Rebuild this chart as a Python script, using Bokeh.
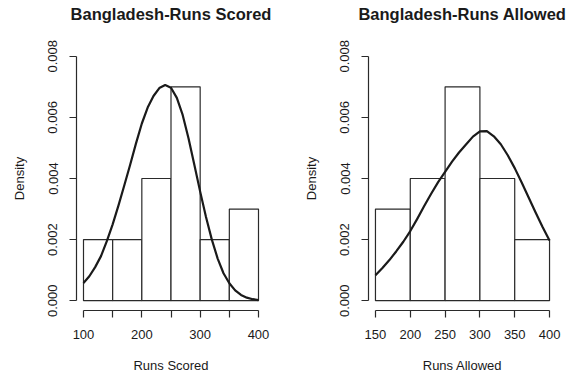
from bokeh.plotting import figure
from bokeh.layouts import row
from bokeh.models import Range1d, FixedTicker, Title
from bokeh.embed import file_html
from bokeh.resources import INLINE

# ---- data ----
scored_edges = [100, 150, 200, 250, 300, 350, 400]
scored_density = [0.002, 0.002, 0.004, 0.007, 0.002, 0.003]
scored_curve_x = [100, 110, 120, 130, 140, 150, 160, 170, 180, 190, 200, 210, 220, 230, 240,
                  250, 260, 270, 280, 290, 300, 310, 320, 330, 340, 350, 360, 370, 380, 390, 400]
scored_curve_y = [0.00058, 0.00080, 0.00110, 0.00146, 0.00195, 0.00250, 0.00312, 0.00378, 0.00445,
                  0.00515, 0.00580, 0.00632, 0.00670, 0.00696, 0.00706, 0.00697, 0.00664, 0.00608,
                  0.00532, 0.00445, 0.00357, 0.00274, 0.00200, 0.00138, 0.00090, 0.00057, 0.00034,
                  0.00019, 0.00010, 0.00005, 0.00002]

allowed_edges = [150, 200, 250, 300, 350, 400]
allowed_density = [0.003, 0.004, 0.007, 0.004, 0.002]
allowed_curve_x = [150, 160, 170, 180, 190, 200, 210, 220, 230, 240, 250, 260, 270, 280, 290,
                   300, 310, 320, 330, 340, 350, 360, 370, 380, 390, 400]
allowed_curve_y = [0.00083, 0.00107, 0.00133, 0.00162, 0.00193, 0.00228, 0.00268, 0.00310, 0.00350,
                   0.00388, 0.00422, 0.00455, 0.00485, 0.00511, 0.00537, 0.00554, 0.00555, 0.00538,
                   0.00512, 0.00476, 0.00434, 0.00387, 0.00338, 0.00289, 0.00241, 0.00197]

y_ticks = [0.0, 0.002, 0.004, 0.006, 0.008]
y_tick_labels = ["0.000", "0.002", "0.004", "0.006", "0.008"]

FONT = "Liberation Sans"
INK = "#1a1a1a"
Y_LO, Y_HI = -0.00032, 0.00832


def make_panel(title, xlabel, edges, dens, cx, cy, width, border_left, border_right,
               major_x, minor_x):
    lo, hi = edges[0], edges[-1]
    pad = (hi - lo) * 0.04
    p = figure(width=width, height=379, output_backend="svg", toolbar_location=None,
               x_range=Range1d(lo - pad, hi + pad), y_range=Range1d(Y_LO, Y_HI),
               min_border_left=border_left, min_border_right=border_right,
               min_border_top=46, min_border_bottom=69)
    p.title = Title(text=title, align="center", text_font=FONT, text_font_size="16.5px",
                    text_font_style="bold", text_color=INK, standoff=0)
    # invisible spacer between frame and title (pushes the title upward)
    p.add_layout(Title(text=" ", text_font_size="11px", text_color="white"), "above")
    p.outline_line_color = None
    p.xgrid.visible = False
    p.ygrid.visible = False
    p.background_fill_color = "white"
    p.border_fill_color = "white"

    p.quad(left=edges[:-1], right=edges[1:], bottom=0, top=dens,
           fill_color="white", line_color="#2a2a2a", line_width=1.2)
    p.line(cx, cy, line_color=INK, line_width=2.2, line_join="round")

    for ax in (p.xaxis[0], p.yaxis[0]):
        ax.axis_line_color = "#2a2a2a"
        ax.axis_line_width = 1.2
        ax.major_tick_line_color = "#2a2a2a"
        ax.major_tick_line_width = 1.2
        ax.minor_tick_line_color = "#2a2a2a"
        ax.minor_tick_line_width = 1.2
        ax.major_tick_in = 0
        ax.major_tick_out = 7
        ax.minor_tick_in = 0
        ax.minor_tick_out = 7
        ax.major_label_text_font = FONT
        ax.major_label_text_font_size = "13px"
        ax.major_label_text_color = INK
        ax.axis_label_text_font = FONT
        ax.axis_label_text_font_size = "13px"
        ax.axis_label_text_font_style = "normal"
        ax.axis_label_text_color = INK

    xa = p.xaxis[0]
    xa.bounds = (lo, hi)
    xa.ticker = FixedTicker(ticks=major_x, minor_ticks=minor_x)
    xa.axis_label = xlabel
    xa.major_label_standoff = 12
    xa.axis_label_standoff = 16

    ya = p.yaxis[0]
    ya.bounds = (0, 0.008)
    ya.ticker = FixedTicker(ticks=y_ticks, minor_ticks=[])
    ya.major_label_overrides = {t: s for t, s in zip(y_ticks, y_tick_labels)}
    ya.major_label_orientation = "vertical"
    ya.major_label_standoff = 12
    ya.axis_label = "Density"
    ya.axis_label_standoff = 19
    return p


p1 = make_panel("Bangladesh-Runs Scored", "Runs Scored", scored_edges, scored_density,
                scored_curve_x, scored_curve_y, 289, 76, 24,
                [100, 200, 300, 400], [150, 250, 350])
p2 = make_panel("Bangladesh-Runs Allowed", "Runs Allowed", allowed_edges, allowed_density,
                allowed_curve_x, allowed_curve_y, 290, 79, 23,
                [150, 200, 250, 300, 350, 400], [])

layout = row(p1, p2)
open("out.html", "w").write(file_html(layout, INLINE))
